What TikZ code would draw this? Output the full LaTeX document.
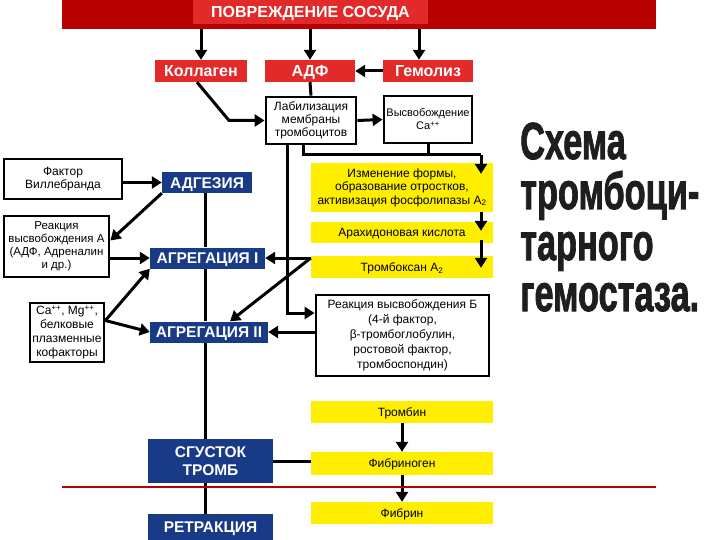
\documentclass[tikz,border=0pt]{standalone}
\usepackage{fontspec}
\usepackage{graphicx}
\setmainfont{Liberation Sans}
\newfontfamily\heavyfont[FakeBold=2]{Liberation Sans Bold}
\usetikzlibrary{arrows.meta,calc}

\definecolor{bandred}{RGB}{185,0,0}
\definecolor{boxred}{RGB}{226,42,42}
\definecolor{navy}{RGB}{24,58,135}
\definecolor{yell}{RGB}{255,238,0}
\definecolor{inkgray}{RGB}{30,30,30}

\newcommand{\narrowtxt}[1]{\scalebox{0.66}[1]{#1}}

\tikzset{
  redbox/.style={fill=boxred,text=white,font=\bfseries\fontsize{16}{18}\selectfont,
    minimum height=22pt,inner sep=0pt,text height=11.5pt,text depth=0pt},
  bluebox/.style={fill=navy,text=white,font=\bfseries\fontsize{15.5}{18}\selectfont,
    inner sep=0pt,align=center},
  oneline/.style={text height=#1,text depth=0pt},
  whitebox/.style={draw=black,line width=2.8pt,fill=white,align=center,
    font=\fontsize{12}{13}\selectfont,inner sep=0pt},
  yellowbox/.style={fill=yell,minimum width=182pt,inner sep=0pt,align=center,
    font=\fontsize{12}{13.5}\selectfont},
  bigtitle/.style={anchor=base west,inner sep=0pt,text=inkgray,
    font=\heavyfont\fontsize{52}{52}\selectfont},
  link/.style={line width=3pt},
  arr/.style={line width=3pt,-{Triangle[length=10pt,width=12pt]}},
  redline/.style={line width=2pt,draw=bandred}
}

\begin{document}
\begin{tikzpicture}[x=1pt,y=-1pt]
  \useasboundingbox (0,0) rectangle (720,540);

  % top
  \node[fill=bandred,minimum width=594pt,minimum height=29pt,inner sep=0pt] (band) at (359,14.5) {};
  \node[redbox,minimum width=235pt,minimum height=24pt] (damage) at (310.5,12) {ПОВРЕЖДЕНИЕ СОСУДА};

  \node[redbox,minimum width=92pt] (koll) at (201,71) {Коллаген};
  \node[redbox,minimum width=90pt] (adp) at (310,71) {АДФ};
  \node[redbox,minimum width=90pt] (gemol) at (428,71) {Гемолиз};

  \node[whitebox,minimum width=90pt,minimum height=47pt] (labil) at (311,120.5)
    {Лабилизация\\мембраны\\тромбоцитов};
  \node[whitebox,minimum width=88pt,minimum height=47pt,font=\fontsize{11}{13}\selectfont] (ca) at (428,119.5)
    {Высвобождение\\Ca\textsuperscript{++}};

  % platelet chain
  \node[yellowbox,minimum height=49pt] (izm) at (402,187.5)
    {Изменение формы,\\образование отростков,\\активизация фосфолипазы A\textsubscript{2}};
  \node[yellowbox,oneline=8.6pt,minimum height=21pt] (arach) at (402,232.5) {Арахидоновая кислота};
  \node[yellowbox,oneline=8.6pt,minimum height=22pt] (tromboks) at (402,267) {Тромбоксан A\textsubscript{2}};
  \node[whitebox,minimum width=173pt,minimum height=81pt,font=\fontsize{12}{15}\selectfont] (reakB) at (402.5,335.5)
    {Реакция высвобождения Б\\(4-й фактор,\\β-тромбоглобулин,\\ростовой фактор,\\тромбоспондин)};

  % stages
  \node[bluebox,oneline=11.1pt,minimum width=90pt,minimum height=21pt] (adg) at (207,182.5) {АДГЕЗИЯ};
  \node[bluebox,oneline=11.1pt,minimum width=115pt,minimum height=21pt] (agr1) at (207.5,258) {АГРЕГАЦИЯ I};
  \node[bluebox,oneline=11.1pt,minimum width=118pt,minimum height=21pt] (agr2) at (209,332) {АГРЕГАЦИЯ II};
  \node[bluebox,minimum width=125pt,minimum height=44pt] (sgustok) at (210.5,461) {СГУСТОК\\ТРОМБ};
  \node[bluebox,oneline=11.1pt,minimum width=125pt,minimum height=26pt] (retr) at (210.5,527) {РЕТРАКЦИЯ};

  % left side
  \node[whitebox,minimum width=118pt,minimum height=40pt] (willeb) at (63,179) {Фактор\\Виллебранда};
  \node[whitebox,minimum width=105pt,minimum height=61pt,font=\fontsize{11.5}{13}\selectfont] (reakA) at (56.5,246.5)
    {Реакция\\высвобождения А\\(АДФ, Адреналин\\и др.)};
  \node[whitebox,minimum width=74pt,minimum height=59pt,font=\fontsize{12}{14}\selectfont] (camg) at (67,332.5)
    {Ca\textsuperscript{++}, Mg\textsuperscript{++},\\белковые\\плазменные\\кофакторы};

  % coagulation
  \node[yellowbox,oneline=8.6pt,minimum height=22pt] (trombin) at (402,412) {Тромбин};
  \node[yellowbox,oneline=8.6pt,minimum height=23pt] (fibrinogen) at (402,463.5) {Фибриноген};
  \node[yellowbox,oneline=8.6pt,minimum height=22pt] (fibrin) at (402,513) {Фибрин};

  % title
  \node[bigtitle] (title1) at (520,159) {\narrowtxt{Схема}};
  \node[bigtitle] (title2) at (520,209) {\narrowtxt{тромбоци-}};
  \node[bigtitle] (title3) at (520,260) {\narrowtxt{тарного}};
  \node[bigtitle] (title4) at (520,311) {\narrowtxt{гемостаза.}};

  % connectors
  \draw[arr] (band.south -| koll) -- (koll.north);
  \draw[arr] (band.south -| adp) -- (adp.north);
  \draw[arr] ($(gemol.north |- band.south)+(-9,0)$) -- ($(gemol.north)+(-9,0)$);
  \draw[arr] (gemol.west) -- (adp.east);
  \draw[link] (adp.south) -- (labil.north);
  \draw[link] ($(gemol.south)+(-9,0)$) -- ($(gemol.south)+(-9,0)$ |- ca.north);
  \draw[arr] (labil.east) -- (ca.west);
  \coordinate (kbend) at (229,120.5);
  \draw[arr] ($(koll.south)+(-4,0)$) -- (kbend) -- (labil.west);
  \draw[link] ($(koll.south)+(-33,0)$) -- ($(koll.south)+(-33,0)$ |- adg.north);

  \coordinate (jr) at (481,155);
  \draw[link] ($(labil.south)+(-8,0)$) |- (jr);
  \draw[link] (ca.south) -- (ca.south |- jr);
  \draw[arr] (jr) -- ($(izm.north -| jr)+(0,11)$);
  \draw[arr] (izm.south -| jr) -- ($(arach.north -| jr)+(0,9)$);
  \draw[arr] ($(arach.south -| jr)+(0,-3)$) -- ($(tromboks.north -| jr)+(0,12)$);
  \draw[arr] ($(labil.south)+(-24,0)$) |- ($(reakB.west)+(0,-22.5)$);

  \draw[arr] (willeb.east |- adg.west) -- (adg.west);
  \draw[arr] (adg.south west) -- ($(reakA.east)+(0,-6)$);
  \draw[arr] (reakA.east |- agr1.west) -- (agr1.west);
  \coordinate (cm) at ($(camg.east)+(0,-12)$);
  \draw[arr] (cm) -- (agr1.south west);
  \draw[arr] (cm) -- (agr2.west);
  \coordinate (tx) at (tromboks.west |- agr1.east);
  \draw[arr] (tx) -- (agr1.east);
  \draw[arr] (tx) -- ($(agr2.north)+(21,0)$);
  \draw[arr] (reakB.west |- agr2.east) -- (agr2.east);

  \coordinate (spine) at (205,0);
  \draw[link] (adg.south -| spine) -- (agr1.north -| spine);
  \draw[link] (agr1.south -| spine) -- (agr2.north -| spine);
  \draw[link] (agr2.south -| spine) -- (sgustok.north -| spine);
  \draw[link] (sgustok.south -| spine) -- (retr.north -| spine);
  \draw[link] (sgustok.east) -- (sgustok.east -| fibrinogen.west);
  \draw[arr] (trombin) -- (fibrinogen);
  \draw[arr] (fibrinogen) -- (fibrin);

  \draw[redline] (62,487) -- (656,487);
\end{tikzpicture}
\end{document}
